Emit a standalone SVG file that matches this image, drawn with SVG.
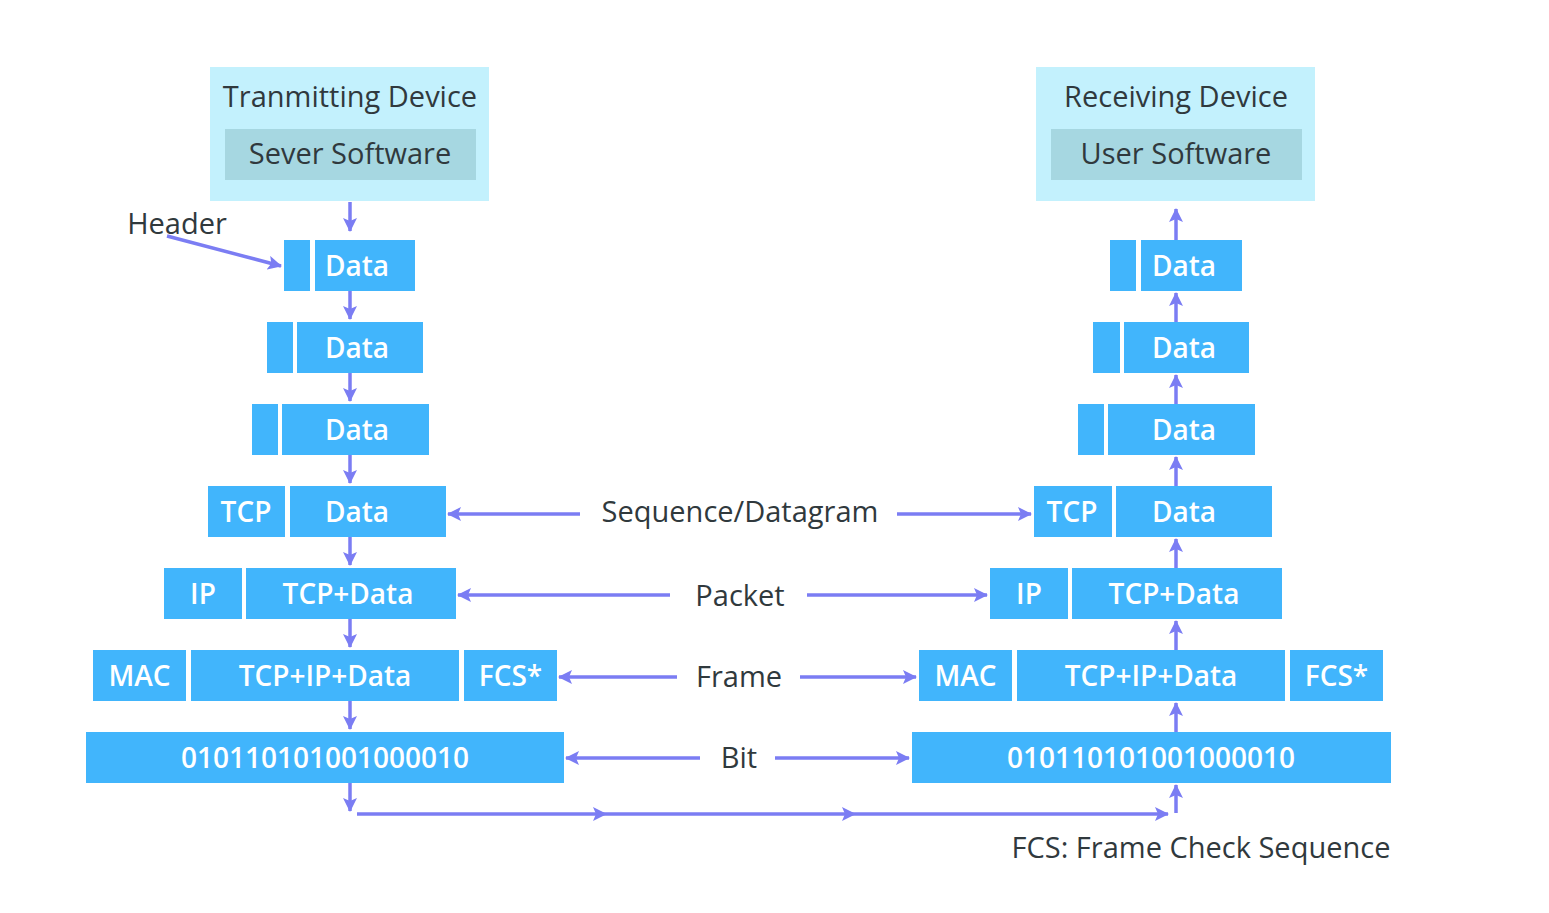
<svg xmlns="http://www.w3.org/2000/svg" width="1549" height="913" viewBox="0 0 1549 913">
<defs>
<style>
.dev{fill:#c3f1fd}
.sw{fill:#a6d7e1}
.b{fill:#41b5fc}
.t{font-family:"Open Sans","Noto Sans","DejaVu Sans",sans-serif;font-size:28px;text-anchor:middle}
.dk{fill:#30393d;font-size:29px;font-weight:500}
.wt{fill:#ffffff;font-weight:600}
.c{stroke:#7b7df3;stroke-width:3.5;fill:none}
.a{marker-end:url(#ah)}
</style>
<marker id="ah" viewBox="0 0 14 14" refX="13" refY="7" markerWidth="14" markerHeight="14" markerUnits="userSpaceOnUse" orient="auto">
<path d="M0,0 L14,7 L0,14 L3,7 Z" fill="#7b7df3"/>
</marker>
</defs>
<rect width="1549" height="913" fill="#ffffff"/>

<g id="tx-device">
<rect class="dev" x="210" y="67" width="279" height="134"/>
<text class="t dk" x="350" y="107">Tranmitting Device</text>
<rect class="sw" x="225" y="129" width="251" height="51"/>
<text class="t dk" x="350" y="164">Sever Software</text>
</g>
<g id="rx-device">
<rect class="dev" x="1036" y="67" width="279" height="134"/>
<text class="t dk" x="1176" y="107">Receiving Device</text>
<rect class="sw" x="1051" y="129" width="251" height="51"/>
<text class="t dk" x="1176" y="164">User Software</text>
</g>

<g id="header-label"><text class="t dk" x="177" y="234">Header</text></g>

<g id="tx-l1">
<rect class="b" x="284" y="240" width="26" height="51"/>
<rect class="b" x="315" y="240" width="100" height="51"/>
<text class="t wt" x="357" y="275.5">Data</text>
</g>
<g id="tx-l2">
<rect class="b" x="267" y="322" width="26" height="51"/>
<rect class="b" x="297" y="322" width="126" height="51"/>
<text class="t wt" x="357" y="357.5">Data</text>
</g>
<g id="tx-l3">
<rect class="b" x="252" y="404" width="26" height="51"/>
<rect class="b" x="282" y="404" width="147" height="51"/>
<text class="t wt" x="357" y="439.5">Data</text>
</g>
<g id="tx-tcp">
<rect class="b" x="208" y="486" width="77" height="51"/>
<text class="t wt" x="246" y="521.5">TCP</text>
<rect class="b" x="290" y="486" width="156" height="51"/>
<text class="t wt" x="357" y="521.5">Data</text>
</g>
<g id="tx-ip">
<rect class="b" x="164" y="568" width="78" height="51"/>
<text class="t wt" x="203" y="603.5">IP</text>
<rect class="b" x="246" y="568" width="210" height="51"/>
<text class="t wt" x="348" y="603.5">TCP+Data</text>
</g>
<g id="tx-mac">
<rect class="b" x="93" y="650" width="93" height="51"/>
<text class="t wt" x="139.5" y="685.5">MAC</text>
<rect class="b" x="191" y="650" width="268" height="51"/>
<text class="t wt" x="325" y="685.5">TCP+IP+Data</text>
<rect class="b" x="464" y="650" width="93" height="51"/>
<text class="t wt" x="510.5" y="685.5">FCS*</text>
</g>
<g id="tx-bit">
<rect class="b" x="86" y="732" width="478" height="51"/>
<text class="t wt" x="325" y="767.5">010110101001000010</text>
</g>

<g id="rx-l1">
<rect class="b" x="1110" y="240" width="26" height="51"/>
<rect class="b" x="1141" y="240" width="101" height="51"/>
<text class="t wt" x="1184" y="275.5">Data</text>
</g>
<g id="rx-l2">
<rect class="b" x="1093" y="322" width="27" height="51"/>
<rect class="b" x="1124" y="322" width="125" height="51"/>
<text class="t wt" x="1184" y="357.5">Data</text>
</g>
<g id="rx-l3">
<rect class="b" x="1078" y="404" width="26" height="51"/>
<rect class="b" x="1108" y="404" width="147" height="51"/>
<text class="t wt" x="1184" y="439.5">Data</text>
</g>
<g id="rx-tcp">
<rect class="b" x="1034" y="486" width="78" height="51"/>
<text class="t wt" x="1072" y="521.5">TCP</text>
<rect class="b" x="1116" y="486" width="156" height="51"/>
<text class="t wt" x="1184" y="521.5">Data</text>
</g>
<g id="rx-ip">
<rect class="b" x="990" y="568" width="78" height="51"/>
<text class="t wt" x="1029" y="603.5">IP</text>
<rect class="b" x="1072" y="568" width="210" height="51"/>
<text class="t wt" x="1174" y="603.5">TCP+Data</text>
</g>
<g id="rx-mac">
<rect class="b" x="919" y="650" width="93" height="51"/>
<text class="t wt" x="965.5" y="685.5">MAC</text>
<rect class="b" x="1017" y="650" width="268" height="51"/>
<text class="t wt" x="1151" y="685.5">TCP+IP+Data</text>
<rect class="b" x="1290" y="650" width="93" height="51"/>
<text class="t wt" x="1336.5" y="685.5">FCS*</text>
</g>
<g id="rx-bit">
<rect class="b" x="912" y="732" width="479" height="51"/>
<text class="t wt" x="1151" y="767.5">010110101001000010</text>
</g>

<g id="layer-labels">
<text class="t dk" x="740" y="522">Sequence/Datagram</text>
<text class="t dk" x="740" y="606">Packet</text>
<text class="t dk" x="739" y="687">Frame</text>
<text class="t dk" x="739" y="768">Bit</text>
<text class="t dk" x="1201" y="858">FCS: Frame Check Sequence</text>
</g>

<g id="connectors">
<line class="c a" x1="167" y1="236" x2="281" y2="266"/>
<line class="c a" x1="350" y1="202" x2="350" y2="231"/>
<line class="c a" x1="350" y1="291" x2="350" y2="319"/>
<line class="c a" x1="350" y1="373" x2="350" y2="401"/>
<line class="c a" x1="350" y1="455" x2="350" y2="483"/>
<line class="c a" x1="350" y1="537" x2="350" y2="565"/>
<line class="c a" x1="350" y1="619" x2="350" y2="647"/>
<line class="c a" x1="350" y1="701" x2="350" y2="729"/>
<line class="c a" x1="350" y1="783" x2="350" y2="811"/>
<polyline class="c" points="357,814 606,814 855,814 1168,814" marker-mid="url(#ah)" marker-end="url(#ah)"/>
<line class="c a" x1="1176" y1="813" x2="1176" y2="785"/>
<line class="c a" x1="1176" y1="732" x2="1176" y2="703"/>
<line class="c a" x1="1176" y1="650" x2="1176" y2="621"/>
<line class="c a" x1="1176" y1="568" x2="1176" y2="539"/>
<line class="c a" x1="1176" y1="486" x2="1176" y2="457"/>
<line class="c a" x1="1176" y1="404" x2="1176" y2="375"/>
<line class="c a" x1="1176" y1="322" x2="1176" y2="293"/>
<line class="c a" x1="1176" y1="240" x2="1176" y2="209"/>
<line class="c a" x1="580" y1="514" x2="448" y2="514"/>
<line class="c a" x1="897" y1="514" x2="1031" y2="514"/>
<line class="c a" x1="670" y1="595" x2="458" y2="595"/>
<line class="c a" x1="807" y1="595" x2="987" y2="595"/>
<line class="c a" x1="677" y1="677" x2="559" y2="677"/>
<line class="c a" x1="800" y1="677" x2="916" y2="677"/>
<line class="c a" x1="700" y1="758" x2="566" y2="758"/>
<line class="c a" x1="775" y1="758" x2="909" y2="758"/>
</g>
</svg>
